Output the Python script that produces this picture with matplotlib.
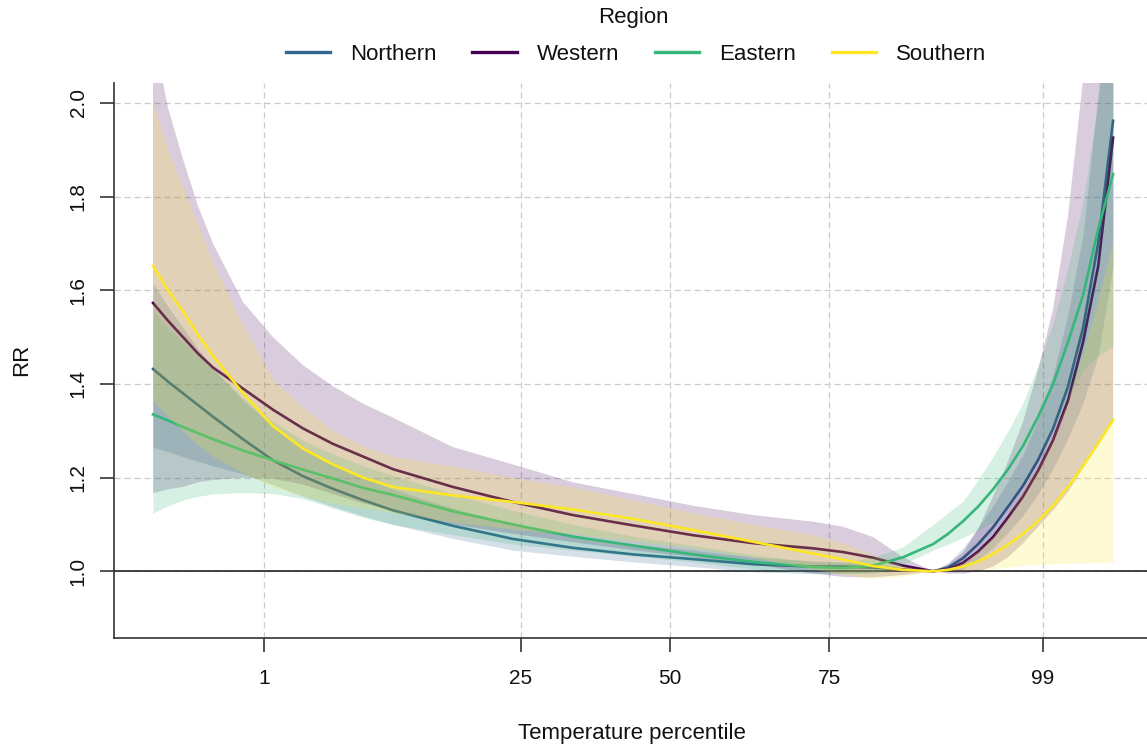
import matplotlib
matplotlib.use('Agg')
import matplotlib.pyplot as plt
from matplotlib.lines import Line2D

plt.rcParams['font.family'] = ['Liberation Sans', 'DejaVu Sans']

# Temperature (deg C) grid the exposure-response curves are read at
temp = [-2, -1.5, -1, -0.5, 0, 1, 2, 3, 4, 5, 6, 8, 10, 12, 14, 16, 18, 20, 21, 22, 23,
        24, 24.5, 25, 25.5, 26, 26.5, 27, 27.5, 28, 28.5, 29, 29.5, 30]

# Temperatures at the labelled percentiles
tick_temp = [1.70, 10.26, 15.23, 20.54, 27.66]
tick_labels = ['1', '25', '50', '75', '99']

regions = ['Northern', 'Western', 'Eastern', 'Southern']
colors = ['#31688E', '#440154', '#35B779', '#FDE725']

northern_rr = [1.432, 1.405, 1.38, 1.355, 1.33, 1.282, 1.237, 1.203, 1.176, 1.152, 1.130, 1.097, 1.069, 1.05,
               1.036, 1.026, 1.015, 1.01, 1.01, 1.008, 1.004,
               1.0, 1.008, 1.028, 1.058, 1.094, 1.138, 1.183, 1.238, 1.305, 1.395, 1.52, 1.70, 1.962]
northern_lo = [1.265, 1.255, 1.245, 1.235, 1.225, 1.208, 1.185, 1.16, 1.138, 1.118, 1.10, 1.07, 1.045, 1.032,
               1.02, 1.01, 0.999, 0.995, 0.996, 0.998, 1.0,
               1.0, 1.0, 1.005, 1.025, 1.05, 1.083, 1.12, 1.165, 1.22, 1.285, 1.36, 1.46, 1.65]
northern_hi = [1.615, 1.565, 1.52, 1.475, 1.435, 1.365, 1.31, 1.265, 1.23, 1.20, 1.175, 1.135, 1.10, 1.075,
               1.058, 1.045, 1.03, 1.022, 1.02, 1.015, 1.007,
               1.0, 1.018, 1.05, 1.093, 1.14, 1.193, 1.25, 1.325, 1.42, 1.55, 1.72, 2.02, 2.35]

western_rr = [1.573, 1.535, 1.50, 1.465, 1.435, 1.39, 1.345, 1.305, 1.272, 1.245, 1.218, 1.18, 1.148, 1.12,
              1.098, 1.077, 1.06, 1.049, 1.041, 1.029, 1.012,
              1.0, 1.004, 1.018, 1.042, 1.073, 1.115, 1.16, 1.215, 1.28, 1.365, 1.49, 1.65, 1.926]
western_lo = [1.167, 1.175, 1.18, 1.19, 1.195, 1.20, 1.198, 1.185, 1.165, 1.145, 1.13, 1.10, 1.08, 1.062,
              1.045, 1.03, 1.015, 0.995, 0.988, 0.987, 0.992,
              1.0, 0.995, 0.995, 1.0, 1.01, 1.03, 1.06, 1.095, 1.13, 1.17, 1.22, 1.27, 1.32]
western_hi = [2.15, 1.99, 1.88, 1.78, 1.70, 1.575, 1.50, 1.44, 1.395, 1.358, 1.328, 1.265, 1.228, 1.19,
              1.165, 1.14, 1.12, 1.106, 1.095, 1.073, 1.03,
              1.0, 1.015, 1.04, 1.09, 1.16, 1.235, 1.32, 1.43, 1.56, 1.76, 2.05, 2.4, 2.9]

eastern_rr = [1.335, 1.322, 1.308, 1.295, 1.282, 1.258, 1.237, 1.217, 1.198, 1.178, 1.163, 1.128, 1.10, 1.074,
              1.055, 1.036, 1.02, 1.009, 1.007, 1.012, 1.03,
              1.058, 1.08, 1.107, 1.138, 1.175, 1.218, 1.268, 1.33, 1.40, 1.49, 1.59, 1.73, 1.848]
eastern_lo = [1.124, 1.14, 1.152, 1.16, 1.165, 1.168, 1.166, 1.155, 1.135, 1.115, 1.10, 1.078, 1.058, 1.045,
              1.033, 1.02, 1.005, 0.998, 0.995, 0.995, 1.015,
              1.045, 1.058, 1.072, 1.087, 1.105, 1.145, 1.19, 1.245, 1.30, 1.37, 1.43, 1.46, 1.48]
eastern_hi = [1.558, 1.52, 1.49, 1.46, 1.43, 1.37, 1.32, 1.28, 1.25, 1.225, 1.205, 1.165, 1.13, 1.10,
              1.075, 1.055, 1.035, 1.02, 1.018, 1.03, 1.052,
              1.10, 1.125, 1.15, 1.195, 1.245, 1.30, 1.36, 1.44, 1.53, 1.65, 1.79, 2.0, 2.3]

southern_rr = [1.652, 1.60, 1.555, 1.505, 1.46, 1.38, 1.31, 1.262, 1.228, 1.20, 1.18, 1.162, 1.148, 1.132,
               1.112, 1.088, 1.063, 1.038, 1.025, 1.011, 1.003,
               1.0, 1.003, 1.01, 1.021, 1.037, 1.057, 1.08, 1.107, 1.14, 1.18, 1.225, 1.273, 1.323]
southern_lo = [1.365, 1.33, 1.30, 1.27, 1.245, 1.21, 1.18, 1.16, 1.145, 1.135, 1.125, 1.105, 1.09, 1.08,
               1.065, 1.05, 1.03, 1.005, 0.993, 0.985, 0.99,
               1.0, 1.001, 1.002, 1.004, 1.006, 1.009, 1.012, 1.015, 1.016, 1.017, 1.018, 1.018, 1.019]
southern_hi = [2.0, 1.90, 1.82, 1.74, 1.66, 1.525, 1.41, 1.35, 1.30, 1.268, 1.245, 1.225, 1.20, 1.18,
               1.152, 1.125, 1.10, 1.078, 1.06, 1.035, 1.012,
               1.0, 1.008, 1.02, 1.045, 1.075, 1.118, 1.17, 1.225, 1.29, 1.37, 1.47, 1.58, 1.709]

series = [
    (northern_rr, northern_lo, northern_hi),
    (western_rr, western_lo, western_hi),
    (eastern_rr, eastern_lo, eastern_hi),
    (southern_rr, southern_lo, southern_hi),
]

W, H = 1147, 751
fig = plt.figure(figsize=(W / 100, H / 100), dpi=100)
ax = fig.add_axes([114 / W, 1 - 638 / H, 1 - 114 / W, (638 - 83) / H])

ax.set_xlim(-3.3, 31.13)
ax.set_ylim(0.8575, 2.0427)

# grid first so the ribbons sit on top of it
ax.set_axisbelow(True)
ax.grid(True, color='#cccccc', linestyle=(0, (5, 3)), linewidth=0.9)
ax.axhline(1.0, color='#333333', linewidth=1.3, zorder=1.8)

# ribbon then line per region, so later ribbons tint earlier lines
for (rr, lo, hi), col in zip(series, colors):
    ax.fill_between(temp, lo, hi, color=col, alpha=0.2, linewidth=0, zorder=2)
    ax.plot(temp, rr, color=col, linewidth=1.9, zorder=2)

ax.set_xticks(tick_temp)
ax.set_xticklabels(tick_labels)
ax.set_yticks([1.0, 1.2, 1.4, 1.6, 1.8, 2.0])
ax.set_yticklabels(['1.0', '1.2', '1.4', '1.6', '1.8', '2.0'])
for lab in ax.get_yticklabels():
    lab.set_rotation(90)
    lab.set_va('center')

ax.tick_params(axis='both', length=10, width=1.2, color='#333333', labelsize=15, labelcolor='#111111')
ax.tick_params(axis='x', pad=12)
ax.tick_params(axis='y', pad=9)

for side in ['top', 'right']:
    ax.spines[side].set_visible(False)
for side in ['left', 'bottom']:
    ax.spines[side].set_color('#333333')
    ax.spines[side].set_linewidth(1.2)

fig.text(22 / W, 1 - 360 / H, 'RR', rotation=90, ha='center', va='center', fontsize=16, color='#111111')
fig.text(632 / W, 1 - 733 / H, 'Temperature percentile', ha='center', va='center', fontsize=16, color='#111111')

# legend on top
fig.text(633 / W, 1 - 18 / H, 'Region', ha='center', va='center', fontsize=16, color='#111111')
handles = [Line2D([0], [0], color=c, linewidth=2.4) for c in colors]
fig.legend(handles, regions, loc='center', bbox_to_anchor=(636 / W, 1 - 54 / H), ncol=4, frameon=False,
           fontsize=16, handlelength=2.0, handletextpad=0.9, columnspacing=1.6, labelcolor='#111111')

fig.savefig('out.png', dpi=100)
